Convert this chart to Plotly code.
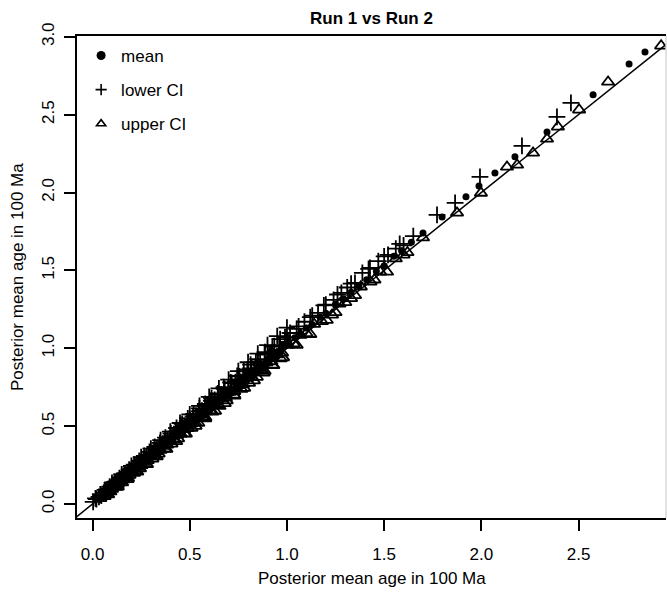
import plotly.graph_objects as go

# ---- data (run 1 on x, run 2 on y) ----
mean_x = [0.035, 0.048, 0.06, 0.071, 0.085, 0.094, 0.108, 0.12, 0.131, 0.143, 0.155, 0.168, 0.176, 0.19,
          0.203, 0.214, 0.226, 0.239, 0.25, 0.262, 0.275, 0.286, 0.298, 0.31, 0.322, 0.335, 0.346, 0.358,
          0.37, 0.383, 0.395, 0.407, 0.42, 0.432, 0.445, 0.457, 0.47, 0.482, 0.495, 0.508, 0.52, 0.533,
          0.546, 0.558, 0.571, 0.585, 0.598, 0.61, 0.625, 0.638, 0.652, 0.667, 0.68, 0.695, 0.71, 0.724,
          0.74, 0.755, 0.77, 0.786, 0.802, 0.818, 0.835, 0.852, 0.87, 0.888, 0.905, 0.925, 0.945, 0.965,
          0.985, 1.01, 1.04, 1.07, 1.1, 1.13, 1.17, 1.2, 1.25, 1.29, 1.33, 1.37, 1.41, 1.46, 1.5, 1.55,
          1.59, 1.64, 1.7, 1.798, 1.921, 1.988, 2.07, 2.173, 2.338, 2.575, 2.76, 2.842,
          0.042, 0.066, 0.09, 0.115, 0.138, 0.162, 0.185, 0.208, 0.232, 0.256, 0.28, 0.304, 0.328, 0.352,
          0.377, 0.401, 0.426, 0.451, 0.476, 0.501, 0.527, 0.552, 0.578, 0.604, 0.631, 0.658, 0.686, 0.714,
          0.742, 0.77, 0.8, 0.83, 0.86, 0.89, 0.92, 0.95, 0.98,
          0.12, 0.2, 0.28, 0.36, 0.44, 0.52, 0.6, 0.68, 0.76, 0.84, 0.92, 1.0,
          0.07, 0.1, 0.13, 0.16, 0.19, 0.22, 0.25, 0.28, 0.31, 0.34, 0.37, 0.4, 0.43, 0.46, 0.49, 0.52,
          0.55, 0.58, 0.61, 0.64, 0.67, 0.7, 0.73, 0.76, 0.79, 0.82, 0.85, 0.88, 0.91, 0.94]
mean_y = [0.038, 0.045, 0.064, 0.07, 0.09, 0.093, 0.113, 0.118, 0.137, 0.144, 0.16, 0.166, 0.183, 0.192,
          0.21, 0.214, 0.234, 0.24, 0.258, 0.263, 0.284, 0.29, 0.307, 0.312, 0.333, 0.338, 0.357, 0.362,
          0.382, 0.386, 0.407, 0.41, 0.433, 0.437, 0.458, 0.462, 0.484, 0.487, 0.51, 0.512, 0.536, 0.538,
          0.562, 0.565, 0.588, 0.59, 0.616, 0.618, 0.644, 0.645, 0.672, 0.675, 0.7, 0.705, 0.731, 0.733,
          0.762, 0.765, 0.793, 0.797, 0.826, 0.83, 0.86, 0.866, 0.895, 0.902, 0.932, 0.94, 0.972, 0.985,
          1.012, 1.03, 1.068, 1.09, 1.13, 1.152, 1.2, 1.225, 1.282, 1.318, 1.36, 1.402, 1.44, 1.495, 1.53,
          1.59, 1.626, 1.68, 1.74, 1.843, 1.972, 2.042, 2.126, 2.229, 2.389, 2.627, 2.826, 2.903,
          0.05, 0.062, 0.1, 0.112, 0.152, 0.158, 0.201, 0.205, 0.25, 0.252, 0.301, 0.3, 0.352, 0.349,
          0.404, 0.398, 0.456, 0.448, 0.508, 0.499, 0.562, 0.55, 0.615, 0.603, 0.67, 0.657, 0.727, 0.713,
          0.785, 0.769, 0.845, 0.83, 0.905, 0.89, 0.966, 0.95, 1.026,
          0.14, 0.225, 0.31, 0.395, 0.478, 0.562, 0.646, 0.73, 0.815, 0.9, 0.985, 1.07,
          0.1, 0.094, 0.162, 0.153, 0.225, 0.213, 0.287, 0.273, 0.349, 0.333, 0.411, 0.393, 0.473, 0.452,
          0.535, 0.512, 0.597, 0.572, 0.659, 0.632, 0.721, 0.692, 0.783, 0.752, 0.845, 0.812, 0.907, 0.872,
          0.969, 0.932]

lower_x = [0.003, 0.02, 0.033, 0.045, 0.058, 0.07, 0.082, 0.095, 0.108, 0.12, 0.133, 0.146, 0.158, 0.171,
           0.184, 0.197, 0.21, 0.223, 0.236, 0.25, 0.263, 0.276, 0.29, 0.303, 0.317, 0.33, 0.344, 0.358,
           0.372, 0.386, 0.4, 0.414, 0.428, 0.443, 0.457, 0.472, 0.487, 0.502, 0.517, 0.532, 0.548, 0.563,
           0.579, 0.595, 0.611, 0.628, 0.645, 0.662, 0.68, 0.698, 0.716, 0.735, 0.755, 0.775, 0.796, 0.818,
           0.84, 0.862, 0.885, 0.91, 0.935, 0.96, 0.99, 1.016, 1.05, 1.09, 1.13, 1.16, 1.2, 1.24, 1.28,
           1.31, 1.35, 1.388, 1.427, 1.47, 1.52, 1.56, 1.6, 1.65, 1.772, 1.865, 1.993, 2.209, 2.389, 2.461,
           0.015, 0.04, 0.064, 0.088, 0.113, 0.138, 0.163, 0.188, 0.214, 0.24, 0.266, 0.293, 0.32, 0.347,
           0.375, 0.403, 0.432, 0.461, 0.49, 0.52, 0.55, 0.58, 0.612, 0.644, 0.676, 0.71, 0.744, 0.778,
           0.813, 0.85, 0.887, 0.925, 0.965,
           0.1, 0.15, 0.2, 0.25, 0.3, 0.35, 0.4, 0.45, 0.5, 0.55, 0.6, 0.65, 0.7, 0.75, 0.8, 0.85, 0.9,
           0.95, 1.0, 1.06, 1.12, 1.19, 1.26, 1.33, 1.42, 1.5, 1.58]
lower_y = [0.013, 0.032, 0.046, 0.054, 0.072, 0.08, 0.097, 0.105, 0.123, 0.133, 0.15, 0.158, 0.176, 0.186,
           0.203, 0.213, 0.232, 0.24, 0.26, 0.268, 0.29, 0.296, 0.318, 0.325, 0.347, 0.352, 0.376, 0.382,
           0.406, 0.41, 0.436, 0.44, 0.466, 0.47, 0.497, 0.502, 0.53, 0.535, 0.562, 0.566, 0.595, 0.6,
           0.628, 0.633, 0.663, 0.668, 0.7, 0.704, 0.738, 0.742, 0.777, 0.782, 0.819, 0.824, 0.864, 0.87,
           0.911, 0.916, 0.96, 0.968, 1.014, 1.02, 1.072, 1.098, 1.125, 1.17, 1.21, 1.227, 1.28, 1.31, 1.355,
           1.39, 1.419, 1.484, 1.516, 1.56, 1.6, 1.64, 1.66, 1.72, 1.856, 1.933, 2.1, 2.299, 2.486, 2.575,
           0.036, 0.062, 0.09, 0.112, 0.142, 0.166, 0.196, 0.22, 0.252, 0.276, 0.308, 0.334, 0.366, 0.392,
           0.426, 0.452, 0.488, 0.515, 0.55, 0.578, 0.614, 0.642, 0.68, 0.71, 0.75, 0.78, 0.822, 0.852,
           0.895, 0.93, 0.975, 1.01, 1.058,
           0.135, 0.19, 0.245, 0.3, 0.355, 0.41, 0.465, 0.52, 0.575, 0.63, 0.688, 0.742, 0.798, 0.853, 0.91,
           0.965, 1.02, 1.078, 1.132, 1.14, 1.2, 1.275, 1.345, 1.415, 1.51, 1.59, 1.67]

upper_x = [0.04, 0.055, 0.07, 0.085, 0.1, 0.115, 0.13, 0.145, 0.16, 0.175, 0.19, 0.205, 0.22, 0.236, 0.252,
           0.268, 0.284, 0.3, 0.316, 0.333, 0.35, 0.367, 0.384, 0.401, 0.418, 0.436, 0.454, 0.472, 0.49,
           0.508, 0.527, 0.546, 0.565, 0.584, 0.604, 0.624, 0.644, 0.665, 0.686, 0.707, 0.729, 0.751, 0.774,
           0.797, 0.82, 0.845, 0.87, 0.895, 0.92, 0.948, 0.975, 1.005, 1.035, 1.07, 1.1, 1.14, 1.18, 1.205,
           1.232, 1.27, 1.3, 1.33, 1.38, 1.43, 1.48, 1.515, 1.56, 1.62, 1.7, 1.875, 1.998, 2.132, 2.184,
           2.266, 2.338, 2.394, 2.503, 2.652, 2.925,
           0.062, 0.092, 0.122, 0.152, 0.182, 0.213, 0.244, 0.276, 0.308, 0.34, 0.373, 0.406, 0.44, 0.474,
           0.509, 0.544, 0.58, 0.616, 0.653, 0.69, 0.728, 0.766, 0.805, 0.845, 0.885, 0.926, 0.968,
           0.08, 0.13, 0.18, 0.23, 0.28, 0.33, 0.38, 0.43, 0.48, 0.53, 0.58, 0.63, 0.68, 0.73, 0.78, 0.83,
           0.88, 0.93, 0.98, 1.05, 1.12, 1.25, 1.35, 1.45, 1.6]
upper_y = [0.036, 0.055, 0.066, 0.086, 0.096, 0.117, 0.126, 0.147, 0.156, 0.178, 0.186, 0.208, 0.216, 0.239,
           0.248, 0.272, 0.28, 0.304, 0.312, 0.338, 0.346, 0.372, 0.38, 0.407, 0.414, 0.442, 0.45, 0.479,
           0.486, 0.516, 0.523, 0.554, 0.561, 0.593, 0.6, 0.633, 0.64, 0.675, 0.682, 0.718, 0.724, 0.762,
           0.768, 0.808, 0.815, 0.857, 0.864, 0.908, 0.915, 0.96, 0.97, 1.02, 1.03, 1.085, 1.096, 1.155,
           1.172, 1.18, 1.214, 1.285, 1.295, 1.32, 1.395, 1.426, 1.49, 1.49, 1.575, 1.615, 1.71, 1.869,
           1.997, 2.164, 2.177, 2.254, 2.344, 2.422, 2.531, 2.71, 2.942,
           0.049, 0.079, 0.108, 0.138, 0.167, 0.198, 0.228, 0.26, 0.29, 0.322, 0.354, 0.386, 0.42, 0.452,
           0.487, 0.52, 0.556, 0.591, 0.628, 0.664, 0.701, 0.738, 0.776, 0.815, 0.854, 0.893, 0.934,
           0.06, 0.11, 0.158, 0.207, 0.255, 0.305, 0.353, 0.402, 0.45, 0.5, 0.548, 0.597, 0.646, 0.695,
           0.744, 0.792, 0.842, 0.89, 0.94, 1.02, 1.09, 1.23, 1.34, 1.44, 1.6]

tick_vals = [0.0, 0.5, 1.0, 1.5, 2.0, 2.5, 3.0]
tick_text = ["0.0", "0.5", "1.0", "1.5", "2.0", "2.5", "3.0"]
x_range = [-0.08, 2.95]
y_range = [-0.09, 3.005]

FONT = "Liberation Sans, Arial, Helvetica, sans-serif"
FS = 17

fig = go.Figure()

fig.add_trace(go.Scatter(x=mean_x, y=mean_y, mode="markers", showlegend=False,
                         marker=dict(symbol="circle", size=7, color="black", line=dict(width=0))))
fig.add_trace(go.Scatter(x=lower_x, y=lower_y, mode="markers", showlegend=False,
                         marker=dict(symbol="cross-thin-open", size=12, color="black",
                                     line=dict(width=1.8, color="black"))))
fig.add_trace(go.Scatter(x=upper_x, y=upper_y, mode="markers", showlegend=False,
                         marker=dict(symbol="triangle-up-open", size=11, color="black",
                                     line=dict(width=1.8, color="black"))))

# legend-only entries
fig.add_trace(go.Scatter(x=[None], y=[None], mode="markers", name="mean", legendgroup="a",
                         marker=dict(symbol="circle", size=9, color="black")))
fig.add_trace(go.Scatter(x=[None], y=[None], mode="markers", name="lower CI", legendgroup="b",
                         marker=dict(symbol="cross-thin-open", size=8, color="black",
                                     line=dict(width=1.6, color="black"))))
fig.add_trace(go.Scatter(x=[None], y=[None], mode="markers", name="upper CI", legendgroup="c",
                         marker=dict(symbol="triangle-up-open", size=8, color="black",
                                     line=dict(width=1.6, color="black"))))

lo = min(x_range[0], y_range[0])
hi = max(x_range[1], y_range[1])
fig.add_shape(type="line", xref="x", yref="y", x0=lo, y0=lo, x1=hi, y1=hi,
              line=dict(color="black", width=1.5), layer="above")
# clipped right border
fig.add_shape(type="line", xref="paper", yref="paper", x0=1, x1=1, y0=0, y1=1,
              line=dict(color="#d9d9d9", width=1.5))

fig.update_layout(
    width=667, height=598,
    margin=dict(l=77, r=1, t=36, b=80),
    paper_bgcolor="white", plot_bgcolor="white",
    font=dict(family=FONT, size=FS, color="black"),
    title=dict(text="Run 1 vs Run 2", x=0.5, xref="paper", xanchor="center",
               y=1 - 18 / 598, yref="container", yanchor="middle",
               font=dict(family=FONT, size=FS, color="black", weight="bold")),
    legend=dict(x=0.007, y=0.996, xanchor="left", yanchor="top", bgcolor="rgba(0,0,0,0)",
                borderwidth=0, traceorder="grouped", tracegroupgap=9,
                font=dict(family=FONT, size=FS, color="black")),
    xaxis=dict(range=x_range, tickvals=tick_vals[:-1], ticktext=tick_text[:-1],
               showgrid=False, zeroline=False, showline=True, linecolor="black", linewidth=2,
               mirror=True, ticks="outside", ticklen=11, tickwidth=2, tickcolor="black",
               ticklabelstandoff=9, tickfont=dict(family=FONT, size=FS, color="black")),
    yaxis=dict(range=y_range, tickvals=tick_vals, ticktext=tick_text,
               showgrid=False, zeroline=False, showline=True, linecolor="black", linewidth=2,
               mirror=False, ticks="outside", ticklen=11, tickwidth=2, tickcolor="black",
               tickangle=-90, ticklabelstandoff=3, tickfont=dict(family=FONT, size=FS, color="black")),
    annotations=[
        dict(text="Posterior mean age in 100 Ma", xref="paper", yref="paper", x=0.5, y=-(578 - 518) / 482,
             xanchor="center", yanchor="middle", showarrow=False,
             font=dict(family=FONT, size=FS, color="black")),
        dict(text="Posterior mean age in 100 Ma", xref="paper", yref="paper", x=-(77 - 17) / 589, y=0.5,
             xanchor="center", yanchor="middle", showarrow=False, textangle=-90,
             font=dict(family=FONT, size=FS, color="black")),
    ],
)

fig.write_html("out.html")
